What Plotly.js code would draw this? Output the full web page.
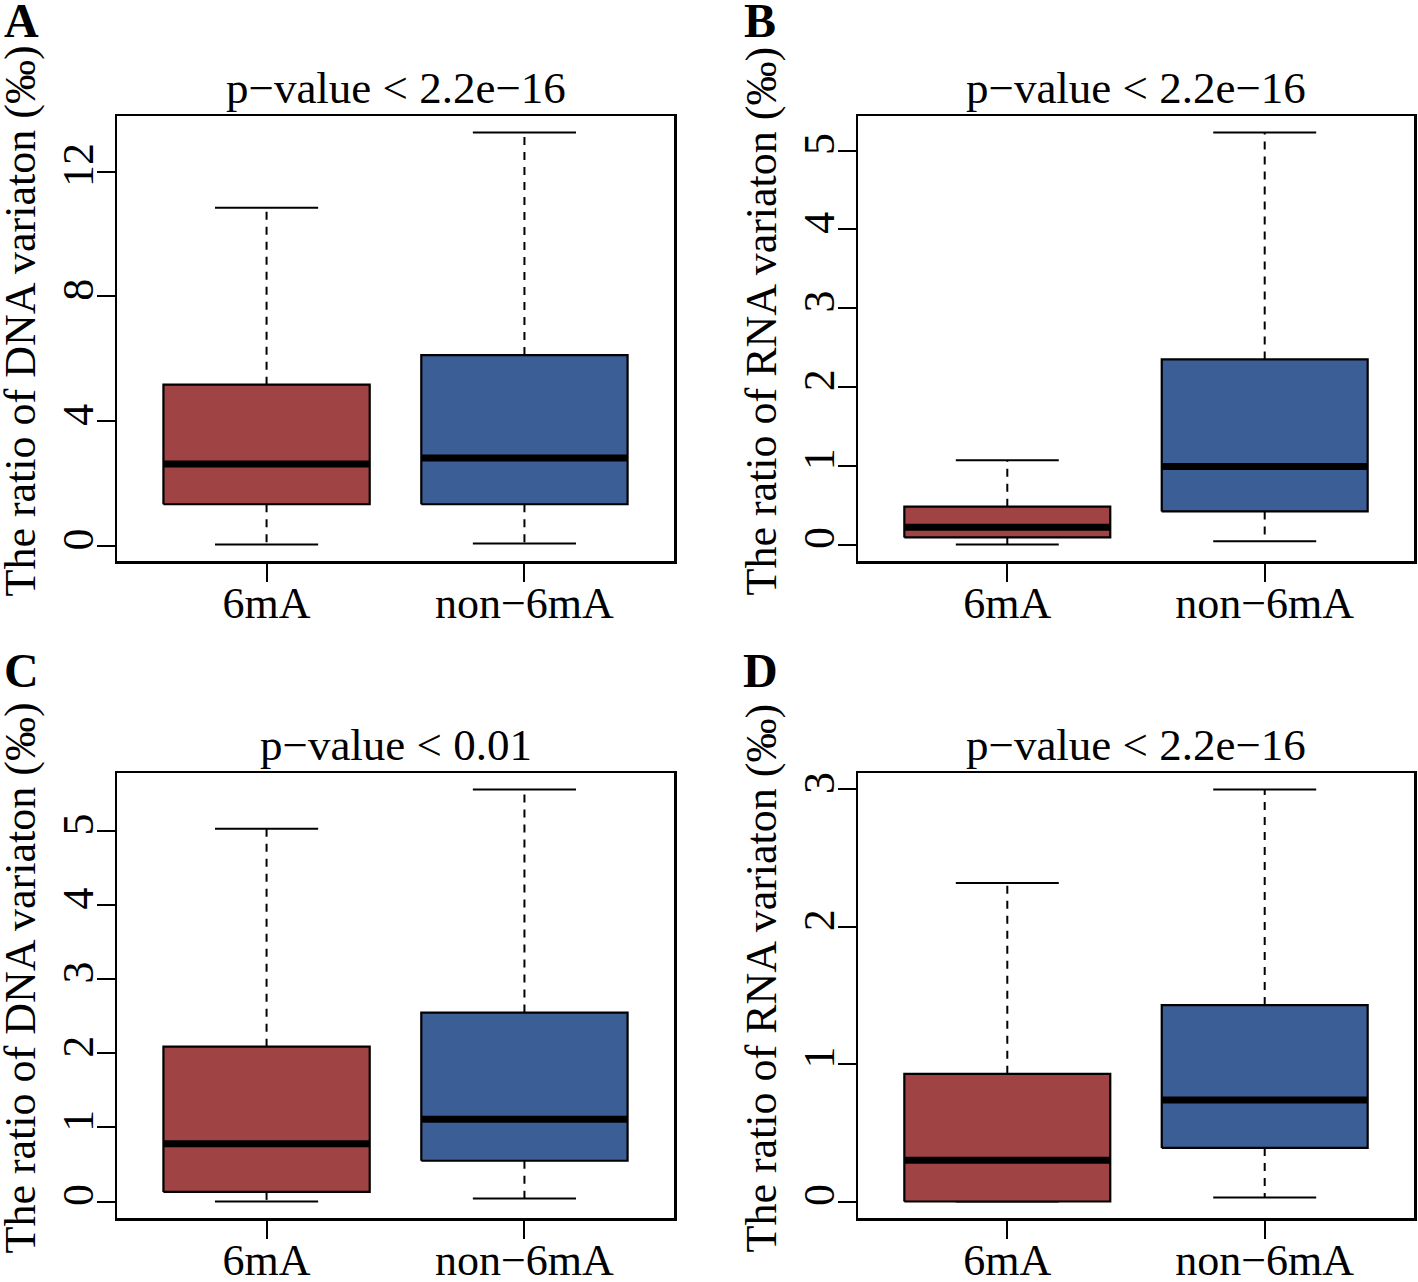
<!DOCTYPE html>
<html><head><meta charset="utf-8">
<script src="https://cdn.plot.ly/plotly-3.0.1.min.js"></script>
<style>html,body{margin:0;padding:0;background:#fff}#chart{width:1418px;height:1282px}</style>
</head><body><div id="chart"></div>
<script>
const W = 1418, H = 1282;

// ---- data ----
const categories = ['6mA', 'non\u22126mA'];
const positions = [1, 2];
const panelLetters = ['A', 'B', 'C', 'D'];
const pTitles = ['p\u2212value < 2.2e\u221216', 'p\u2212value < 2.2e\u221216', 'p\u2212value < 0.01', 'p\u2212value < 2.2e\u221216'];
const yTitles = ['The ratio of DNA variaton (\u2030)', 'The ratio of RNA variaton (\u2030)', 'The ratio of DNA variaton (\u2030)', 'The ratio of RNA variaton (\u2030)'];

const aLower = [0.05, 0.08], aQ1 = [1.34, 1.34], aMedian = [2.63, 2.82], aQ3 = [5.17, 6.12], aUpper = [10.84, 13.25];
const bLower = [0.0, 0.04], bQ1 = [0.09, 0.42], bMedian = [0.22, 0.99], bQ3 = [0.48, 2.35], bUpper = [1.07, 5.23];
const cLower = [0.0, 0.04], cQ1 = [0.13, 0.55], cMedian = [0.78, 1.11], cQ3 = [2.09, 2.55], cUpper = [5.03, 5.56];
const dLower = [0.0, 0.03], dQ1 = [0.0, 0.39], dMedian = [0.30, 0.74], dQ3 = [0.93, 1.43], dUpper = [2.32, 3.0];

const aTicks = [0, 4, 8, 12], bTicks = [0, 1, 2, 3, 4, 5], cTicks = [0, 1, 2, 3, 4, 5], dTicks = [0, 1, 2, 3];
const boxColors = ['#A04344', '#3C5E96'];

const panels = [
  {lo: aLower, q1: aQ1, med: aMedian, q3: aQ3, hi: aUpper, ticks: aTicks},
  {lo: bLower, q1: bQ1, med: bMedian, q3: bQ3, hi: bUpper, ticks: bTicks},
  {lo: cLower, q1: cQ1, med: cMedian, q3: cQ3, hi: cUpper, ticks: cTicks},
  {lo: dLower, q1: dQ1, med: dMedian, q3: dQ3, hi: dUpper, ticks: dTicks}
];

// ---- geometry (pixels) ----
const colX = [[117, 674], [858, 1414]];
const rowY = [[116, 561], [773, 1218]];
const FONT = 'Liberation Serif, Times New Roman, serif';
const BOXHW = 0.4, STAPLEHW = 0.2;

const traces = [];
const layout = {
  width: W, height: H, margin: {l: 0, r: 0, t: 0, b: 0},
  paper_bgcolor: '#fff', plot_bgcolor: '#fff', showlegend: false,
  font: {family: FONT, color: '#000', size: 44},
  annotations: []
};

panels.forEach((p, i) => {
  const c = i % 2, r = Math.floor(i / 2);
  const xa = 'x' + (i + 1), ya = 'y' + (i + 1);
  const xk = 'xaxis' + (i === 0 ? '' : i + 1), yk = 'yaxis' + (i === 0 ? '' : i + 1);
  const dmin = Math.min(...p.lo), dmax = Math.max(...p.hi);
  const ext = 0.04 * (dmax - dmin);
  const xd = [colX[c][0] / W, colX[c][1] / W];
  const yd = [1 - rowY[r][1] / H, 1 - rowY[r][0] / H];

  layout[xk] = {
    domain: xd, anchor: ya, range: [0.42, 2.58],
    tickvals: positions, ticktext: categories,
    showline: true, mirror: true, linecolor: '#000', linewidth: 2.5,
    ticks: 'outside', ticklen: 18, tickwidth: 2, tickcolor: '#000', ticklabelstandoff: -16,
    tickfont: {family: FONT, size: 44, color: '#000'},
    showgrid: false, zeroline: false, fixedrange: true
  };
  layout[yk] = {
    domain: yd, anchor: xa, range: [dmin - ext, dmax + ext],
    tickvals: p.ticks, ticktext: p.ticks.map(String), tickangle: -90,
    showline: true, mirror: true, linecolor: '#000', linewidth: 2.5,
    ticks: 'outside', ticklen: 18, tickwidth: 2, tickcolor: '#000', ticklabelstandoff: -14,
    tickfont: {family: FONT, size: 44, color: '#000'},
    showgrid: false, zeroline: false, fixedrange: true
  };

  positions.forEach((pos, g) => {
    // whiskers (dashed)
    traces.push({type: 'scatter', mode: 'lines', xaxis: xa, yaxis: ya, hoverinfo: 'skip',
      x: [pos, pos, null, pos, pos], y: [p.q3[g], p.hi[g], null, p.q1[g], p.lo[g]],
      line: {color: '#000', width: 2, dash: '8px,7px'}});
    // staples
    traces.push({type: 'scatter', mode: 'lines', xaxis: xa, yaxis: ya, hoverinfo: 'skip',
      x: [pos - STAPLEHW, pos + STAPLEHW, null, pos - STAPLEHW, pos + STAPLEHW],
      y: [p.hi[g], p.hi[g], null, p.lo[g], p.lo[g]],
      line: {color: '#000', width: 2}});
    // box
    traces.push({type: 'scatter', mode: 'lines', xaxis: xa, yaxis: ya, name: categories[g],
      x: [pos - BOXHW, pos + BOXHW, pos + BOXHW, pos - BOXHW, pos - BOXHW],
      y: [p.q1[g], p.q1[g], p.q3[g], p.q3[g], p.q1[g]],
      fill: 'toself', fillcolor: boxColors[g], line: {color: '#000', width: 2.2}});
    // median
    traces.push({type: 'scatter', mode: 'lines', xaxis: xa, yaxis: ya, hoverinfo: 'skip',
      x: [pos - BOXHW, pos + BOXHW], y: [p.med[g], p.med[g]],
      line: {color: '#000', width: 7}});
  });

  const cx = (colX[c][0] + colX[c][1]) / 2;
  const cy = (rowY[r][0] + rowY[r][1]) / 2;
  // panel title
  layout.annotations.push({xref: 'paper', yref: 'paper', x: cx / W, y: 1 - (rowY[r][0] - 28) / H,
    xanchor: 'center', yanchor: 'middle', showarrow: false, text: pTitles[i],
    font: {family: FONT, size: 45, color: '#000'}});
  // y-axis title
  layout.annotations.push({xref: 'paper', yref: 'paper', x: (colX[c][0] - 97) / W, y: 1 - (cy - 17) / H,
    xanchor: 'center', yanchor: 'middle', showarrow: false, textangle: -90, text: yTitles[i],
    font: {family: FONT, size: 44, color: '#000'}});
  // panel letter
  layout.annotations.push({xref: 'paper', yref: 'paper', x: (c === 0 ? 21 : 760) / W, y: 1 - (r === 0 ? 21 : 670) / H,
    xanchor: 'center', yanchor: 'middle', showarrow: false, text: '<b>' + panelLetters[i] + '</b>',
    font: {family: FONT, size: 48, color: '#000'}});
});

Plotly.newPlot('chart', traces, layout, {displayModeBar: false, staticPlot: true});
</script>
</body></html>
